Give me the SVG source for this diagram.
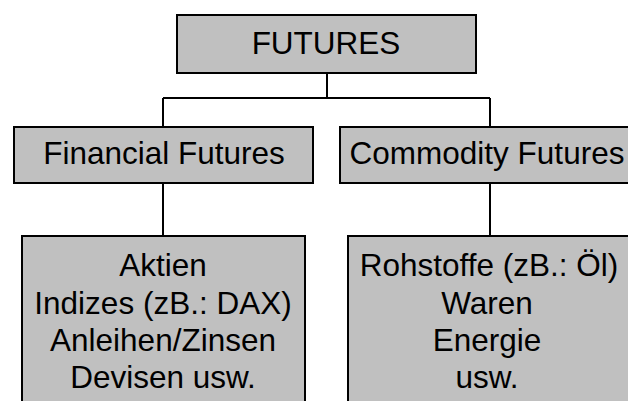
<svg xmlns="http://www.w3.org/2000/svg" width="628" height="401" viewBox="0 0 628 401">
<style>
.box{fill:#c0c0c0;stroke:#000;stroke-width:2}
.lbl{font-family:"Liberation Sans",Arial,sans-serif;font-size:31.5px;fill:#000;text-anchor:middle}
.con{fill:none;stroke:#000;stroke-width:2}
</style>
<rect width="628" height="401" fill="#fff"/>
<g id="connectors">
<path class="con" d="M327 73V98M163 98H490M163 98V126M490 98V126M163 183V236M490 183V236"/>
</g>
<g id="futures">
<rect class="box" x="177" y="15" width="299" height="58"/>
<text class="lbl" x="326" y="54">FUTURES</text>
</g>
<g id="financial">
<rect class="box" x="14" y="127" width="299" height="56"/>
<text class="lbl" x="164" y="164">Financial Futures</text>
</g>
<g id="commodity">
<rect class="box" x="340" y="127" width="300" height="56"/>
<text class="lbl" x="487" y="164">Commodity Futures</text>
</g>
<g id="financial-items">
<rect class="box" x="22" y="236" width="283" height="180"/>
<text class="lbl" x="163" y="276">Aktien</text>
<text class="lbl" x="163" y="314">Indizes (zB.: DAX)</text>
<text class="lbl" x="163" y="351">Anleihen/Zinsen</text>
<text class="lbl" x="163" y="388">Devisen usw.</text>
</g>
<g id="commodity-items">
<rect class="box" x="348" y="236" width="300" height="180"/>
<text class="lbl" x="489" y="276">Rohstoffe (zB.: Öl)</text>
<text class="lbl" x="487" y="314">Waren</text>
<text class="lbl" x="487" y="351">Energie</text>
<text class="lbl" x="487" y="388">usw.</text>
</g>
</svg>
